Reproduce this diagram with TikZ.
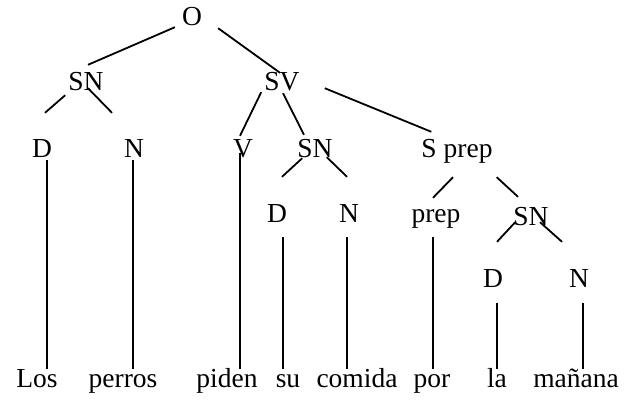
\documentclass[tikz,border=0pt]{standalone}
\usepackage{fontspec}
\setmainfont{Liberation Serif}
\usepackage{tikz}

\tikzset{
  lbl/.style={anchor=base, inner sep=0pt, text height=18pt, text depth=0pt},
  branch/.style={line width=1.8pt}
}

\begin{document}
\begin{tikzpicture}[x=1pt, y=-1pt, font=\fontsize{27.5}{33}\selectfont]
    \useasboundingbox (0,0) rectangle (640,408);

    % Phrase labels
    \node[lbl] (O) at (192,25) {O};
    \node[lbl] (SNa) at (86,90) {SN};
    \node[lbl] (SV) at (282,90) {SV};
    \node[lbl] (Da) at (42,157) {D};
    \node[lbl] (Na) at (134,157) {N};
    \node[lbl] (V) at (243,157) {V};
    \node[lbl] (SNb) at (315,157) {SN};
    \node[lbl] (Sprep) at (457,157) {S prep};
    \node[lbl] (Db) at (277,222) {D};
    \node[lbl] (Nb) at (349,222) {N};
    \node[lbl] (prep) at (436,222) {prep};
    \node[lbl] (SNc) at (531,225) {SN};
    \node[lbl] (Dc) at (493,287) {D};
    \node[lbl] (Nc) at (579,287) {N};

    % Words
    \node[lbl] (los) at (37,387) {Los};
    \node[lbl] (perros) at (123,387) {perros};
    \node[lbl] (piden) at (227,387) {piden};
    \node[lbl] (su) at (288,387) {su};
    \node[lbl] (comida) at (357,387) {comida};
    \node[lbl] (por) at (432,387) {por};
    \node[lbl] (la) at (497,387) {la};
    \node[lbl] (manana) at (576,387) {mañana};

    % Branches
    \draw[branch] ([shift={(-7,2)}]O.south west) -- ([shift={(2,-7)}]SNa.north);
    \draw[branch] ([shift={(16,3)}]O.south east) -- ([shift={(-2,1)}]SV.north);

    \draw[branch] ([shift={(-3,5)}]SNa.south west) -- ([shift={(3,-26)}]Da.north);
    \draw[branch] ([shift={(2,-2)}]SNa.south) -- ([shift={(-22,-26)}]Na.north);

    \draw[branch] ([shift={(-3,2)}]SV.south west) -- ([shift={(-3,-3)}]V.north);
    \draw[branch] ([shift={(1,3)}]SV.south) -- ([shift={(-11,-4)}]SNb.north);
    \draw[branch] ([shift={(25,-2)}]SV.south east) -- ([shift={(10,-7)}]Sprep.north west);

    \draw[branch] ([shift={(5,1)}]SNb.south west) -- ([shift={(5,-27)}]Db.north);
    \draw[branch] ([shift={(-6,0)}]SNb.south east) -- ([shift={(-2,-27)}]Nb.north);

    \draw[branch] ([shift={(-4,20)}]Sprep.south) -- ([shift={(-3,-6)}]prep.north);
    \draw[branch] ([shift={(4,20)}]Sprep.south east) -- ([shift={(-13,-10)}]SNc.north);

    \draw[branch] ([shift={(2,-3)}]SNc.south west) -- ([shift={(4,-27)}]Dc.north);
    \draw[branch] ([shift={(9,-3)}]SNc.south) -- ([shift={(-17,-27)}]Nc.north);

    % Lines down to the words
    \foreach \t/\w/\off/\gap in {Da/los/5/3, Na/perros/-1/3, V/piden/-3/-4,
        Db/su/6/15, Nb/comida/-2/15, prep/por/-3/15, Dc/la/4/16, Nc/manana/4/16}
      \draw[branch, shorten <=\gap pt] ([xshift=\off pt]\t.south) -- ([xshift=\off pt]\t.south |- \w.north);
\end{tikzpicture}
\end{document}
